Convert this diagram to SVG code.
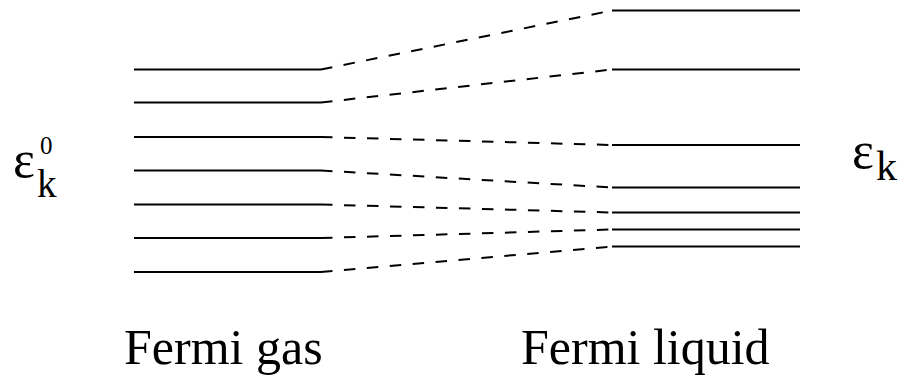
<svg xmlns="http://www.w3.org/2000/svg" width="908" height="381" viewBox="0 0 908 381">
<style>
.lvl{stroke:#000;stroke-width:2;fill:none}
.con{stroke:#000;stroke-width:2;fill:none;stroke-dasharray:11.5 11.5}
.t{font-family:"Liberation Serif","Times New Roman",serif;fill:#000}
</style>
<rect width="908" height="381" fill="#fff"/>
<g id="gas-levels">
<line class="lvl" x1="134" y1="69.5" x2="321" y2="69.5"/>
<line class="lvl" x1="134" y1="102.5" x2="321" y2="102.5"/>
<line class="lvl" x1="134" y1="137" x2="321" y2="137"/>
<line class="lvl" x1="134" y1="170.5" x2="321" y2="170.5"/>
<line class="lvl" x1="134" y1="204.5" x2="321" y2="204.5"/>
<line class="lvl" x1="134" y1="238" x2="321" y2="238"/>
<line class="lvl" x1="134" y1="272" x2="321" y2="272"/>
</g>
<g id="liquid-levels">
<line class="lvl" x1="612" y1="10.5" x2="800" y2="10.5"/>
<line class="lvl" x1="612" y1="69.5" x2="800" y2="69.5"/>
<line class="lvl" x1="612" y1="145" x2="800" y2="145"/>
<line class="lvl" x1="612" y1="187.5" x2="800" y2="187.5"/>
<line class="lvl" x1="612" y1="212.5" x2="800" y2="212.5"/>
<line class="lvl" x1="612" y1="229.5" x2="800" y2="229.5"/>
<line class="lvl" x1="612" y1="246.5" x2="800" y2="246.5"/>
</g>
<g id="connectors">
<line class="con" x1="321" y1="69.5" x2="612" y2="10.5"/>
<line class="con" x1="321" y1="102.5" x2="612" y2="69.5"/>
<line class="con" x1="321" y1="137" x2="612" y2="145"/>
<line class="con" x1="321" y1="170.5" x2="612" y2="187.5"/>
<line class="con" x1="321" y1="204.5" x2="612" y2="212.5"/>
<line class="con" x1="321" y1="238" x2="612" y2="229.5"/>
<line class="con" x1="321" y1="272" x2="612" y2="246.5"/>
</g>
<g id="label-eps0">
<text class="t" x="13" y="177" font-size="52">ε</text>
<text class="t" x="37" y="197" font-size="39">k</text>
<text class="t" x="40" y="154" font-size="25">0</text>
</g>
<g id="label-eps">
<text class="t" x="852" y="168" font-size="52">ε</text>
<text class="t" x="876" y="180" font-size="42">k</text>
</g>
<g id="label-gas">
<text class="t" x="124" y="363.5" font-size="50">Fermi gas</text>
</g>
<g id="label-liquid">
<text class="t" x="521" y="363.5" font-size="50">Fermi liquid</text>
</g>
</svg>
